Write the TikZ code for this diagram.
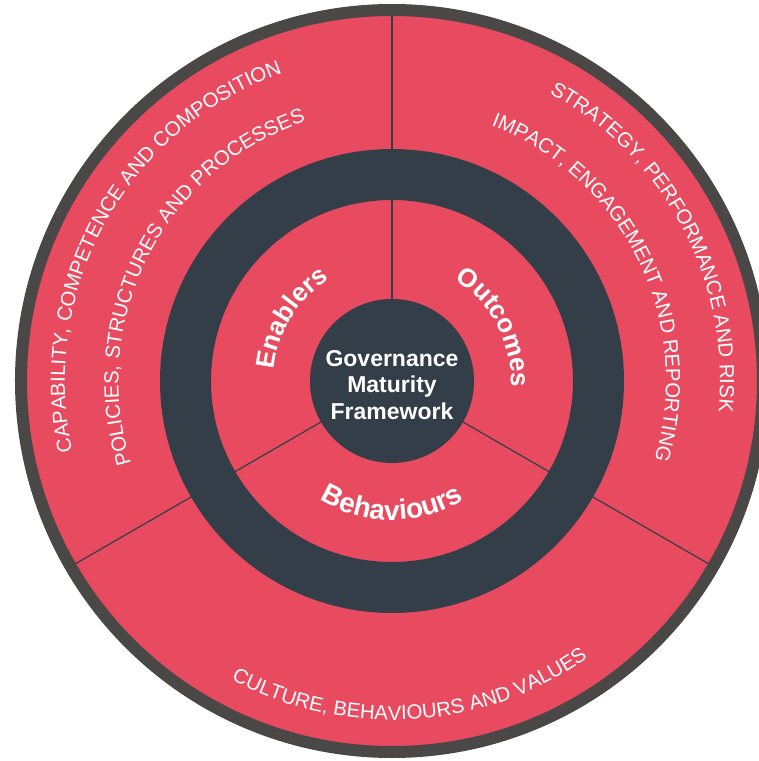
\documentclass[tikz,border=0pt]{standalone}
\usepackage{fontspec}
\setmainfont{Liberation Sans}
\usetikzlibrary{decorations.text}
\definecolor{gmred}{HTML}{E84A5F}
\definecolor{gmdark}{HTML}{343E48}
\definecolor{gmrim}{HTML}{4A4846}
\tikzset{
  outerlabel/.style={decorate, decoration={text along path, text align=center, text color=white,
      text={|\fontsize{20.4}{24}\selectfont|#1}}},
  innerlabel/.style={decorate, decoration={text along path, text align=center, text color=white,
      text={|\bfseries\fontsize{26}{30}\selectfont|#1}}},
  bottomlabel/.style={decorate, decoration={text along path, text align=center, text color=white,
      text={|\bfseries\fontsize{28}{32}\selectfont|#1}}},
  divider/.style={draw=gmdark, line width=1.2pt},
}
\begin{document}
\begin{tikzpicture}[x=1pt,y=1pt]
\useasboundingbox (-392pt,-380pt) rectangle (367pt,381pt);
\clip (-392pt,-380pt) rectangle (367pt,381pt);
\coordinate (c) at (0,0);
% outer disc with rim
\node[circle, fill=gmred, draw=gmrim, line width=12pt, minimum size=742pt, inner sep=0pt] (rim) at (c) {};
% dividers
\coordinate (a1) at (90:82pt);  \coordinate (b1) at (90:365pt);
\coordinate (a2) at (210:82pt); \coordinate (b2) at (210:365pt);
\coordinate (a3) at (330:82pt); \coordinate (b3) at (330:365pt);
\draw[divider] (a1) -- (b1);
\draw[divider] (a2) -- (b2);
\draw[divider] (a3) -- (b3);
% dark ring
\node[circle, draw=gmdark, line width=51pt, minimum size=413pt, inner sep=0pt] (ring) at (c) {};
% hub
\node[circle, fill=gmdark, minimum size=164pt, inner sep=0pt] (hub) at (c) {};
\node[align=center, text=white, inner sep=0pt, font=\bfseries\fontsize{23}{26.5}\selectfont] (title) at (0,-4pt) {Governance\\Maturity\\Framework};
% outer texts
\path[outerlabel={CAPABILITY, COMPETENCE AND COMPOSITION}] (211:327pt) arc[start angle=211, end angle=91, radius=327pt];
\path[outerlabel={POLICIES, STRUCTURES AND PROCESSES}] (213:273.5pt) arc[start angle=213, end angle=93, radius=273.5pt];
\path[outerlabel={STRATEGY, PERFORMANCE AND RISK}] (88:328pt) arc[start angle=88, end angle=-32, radius=328pt];
\path[outerlabel={IMPACT, ENGAGEMENT AND REPORTING}] (86:274pt) arc[start angle=86, end angle=-34, radius=274pt];
\path[outerlabel={CULTURE, BEHAVIOURS AND VALUES}] (213.5:339pt) arc[start angle=213.5, end angle=333.5, radius=339pt];
% inner texts
\path[innerlabel={Enablers}] (198:119pt) arc[start angle=198, end angle=98, radius=119pt];
\path[innerlabel={Outcomes}] (77.6:119pt) arc[start angle=77.6, end angle=-22.4, radius=119pt];
\path[bottomlabel={Behaviours}] (215:139pt) arc[start angle=215, end angle=325, radius=139pt];
\end{tikzpicture}
\end{document}
